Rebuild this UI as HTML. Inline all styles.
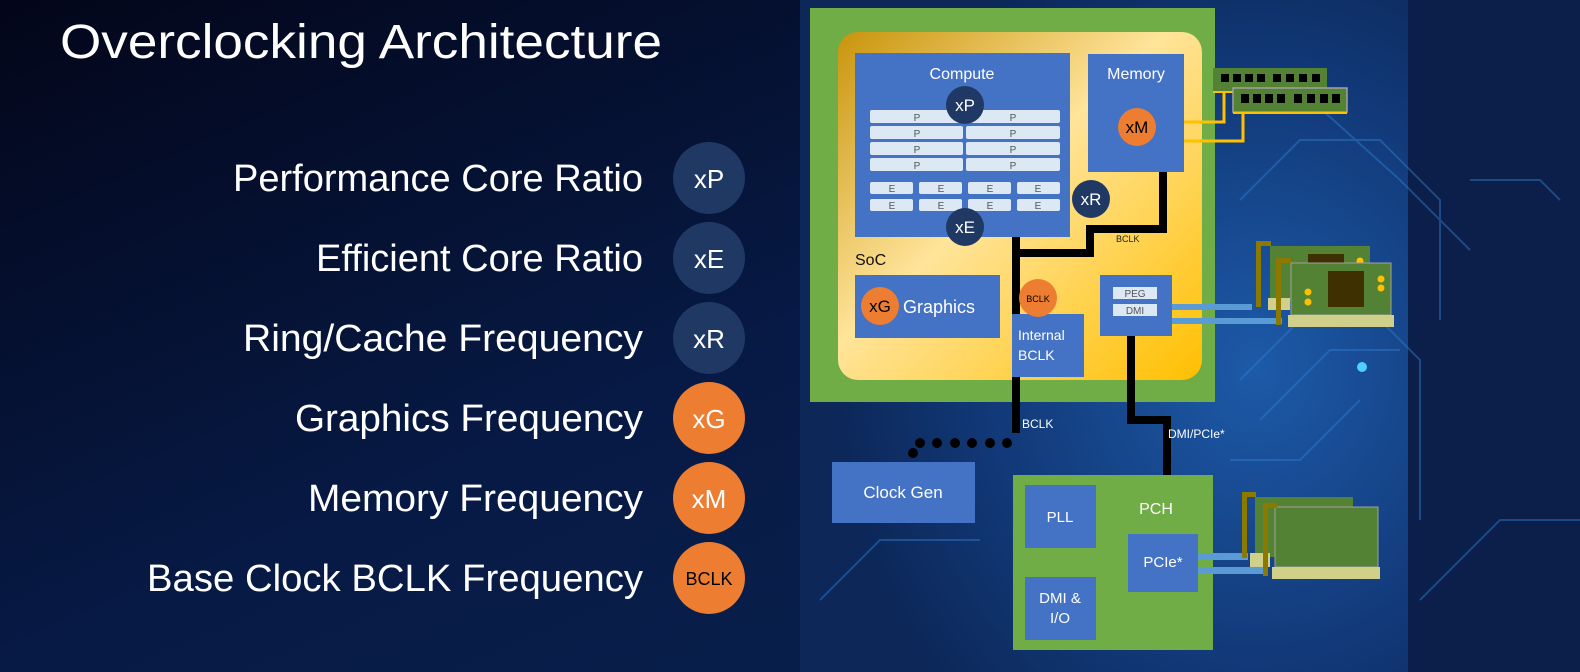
<!DOCTYPE html>
<html><head><meta charset="utf-8"><style>
html,body{margin:0;padding:0;background:#050b22;}
svg{display:block;}
text{font-family:"Liberation Sans",sans-serif;}
</style></head><body>
<svg width="1580" height="672" viewBox="0 0 1580 672" xmlns="http://www.w3.org/2000/svg">
<defs>
<linearGradient id="bg" x1="0" y1="0" x2="1" y2="1">
<stop offset="0" stop-color="#03061a"/><stop offset="0.5" stop-color="#071a45"/><stop offset="1" stop-color="#0a2350"/>
</linearGradient>
<radialGradient id="pan" cx="0.75" cy="0.55" r="0.7">
<stop offset="0" stop-color="#1d5aa8"/><stop offset="0.6" stop-color="#123a7a"/><stop offset="1" stop-color="#0c2758"/>
</radialGradient>
<linearGradient id="yel" x1="0" y1="0" x2="1" y2="1">
<stop offset="0" stop-color="#c8940c"/><stop offset="0.45" stop-color="#ffe49a"/><stop offset="1" stop-color="#ffbf00"/>
</linearGradient>
</defs>
<rect width="1580" height="672" fill="url(#bg)"/>
<rect x="800" y="0" width="608" height="672" fill="url(#pan)"/>
<rect x="1408" y="0" width="172" height="672" fill="#0b1f4a"/>
<g stroke="#2f7fd0" stroke-width="2" fill="none" opacity="0.45">
<path d="M1240 380 L1300 320 L1380 320 L1420 360 L1420 520"/>
<path d="M1260 420 L1330 350 L1400 350"/>
<path d="M1240 200 L1300 140 L1380 140 L1440 200 L1440 320"/>
<path d="M1300 90 L1400 180 L1470 250"/>
<path d="M1230 460 L1300 460 L1360 400"/>
<path d="M820 600 L880 540 L980 540"/>
<path d="M1470 180 L1540 180 L1560 200"/>
<path d="M1420 600 L1500 520 L1580 520"/>
</g>
<circle cx="1362" cy="367" r="5" fill="#4fd0ff"/>

<text x="60" y="58" font-size="48" fill="#fff" textLength="602" lengthAdjust="spacingAndGlyphs">Overclocking Architecture</text>
<g font-size="38" fill="#fff">
<text x="233" y="191" textLength="410" lengthAdjust="spacingAndGlyphs">Performance Core Ratio</text>
<text x="316" y="271" textLength="327" lengthAdjust="spacingAndGlyphs">Efficient Core Ratio</text>
<text x="243" y="351" textLength="400" lengthAdjust="spacingAndGlyphs">Ring/Cache Frequency</text>
<text x="295" y="431" textLength="348" lengthAdjust="spacingAndGlyphs">Graphics Frequency</text>
<text x="308" y="511" textLength="335" lengthAdjust="spacingAndGlyphs">Memory Frequency</text>
<text x="147" y="591" textLength="496" lengthAdjust="spacingAndGlyphs">Base Clock BCLK Frequency</text>
</g>
<g text-anchor="middle" fill="#fff">
<circle cx="709" cy="178" r="36" fill="#203864"/><text x="709" y="188" font-size="26">xP</text>
<circle cx="709" cy="258" r="36" fill="#203864"/><text x="709" y="268" font-size="26">xE</text>
<circle cx="709" cy="338" r="36" fill="#203864"/><text x="709" y="348" font-size="26">xR</text>
<circle cx="709" cy="418" r="36" fill="#ed7d31"/><text x="709" y="428" font-size="26">xG</text>
<circle cx="709" cy="498" r="36" fill="#ed7d31"/><text x="709" y="508" font-size="26">xM</text>
<circle cx="709" cy="578" r="36" fill="#ed7d31"/><text x="709" y="585" font-size="18" fill="#000">BCLK</text>
</g>

<rect x="810" y="8" width="405" height="394" fill="#70ad47"/>
<rect x="838" y="32" width="364" height="348" rx="20" fill="url(#yel)"/>
<g stroke="#ffc000" stroke-width="3" fill="none">
<path d="M1184 122 L1224 122 L1224 92"/>
<path d="M1184 141 L1243 141 L1243 112"/>
</g>
<rect x="1213" y="68" width="114" height="23" fill="#548235"/>
<rect x="1213" y="91" width="114" height="2" fill="#ffc000"/>
<g fill="#000"><rect x="1221" y="74" width="8" height="8"/><rect x="1233" y="74" width="8" height="8"/><rect x="1245" y="74" width="8" height="8"/><rect x="1257" y="74" width="8" height="8"/><rect x="1273" y="74" width="8" height="8"/><rect x="1286" y="74" width="8" height="8"/><rect x="1299" y="74" width="8" height="8"/><rect x="1312" y="74" width="8" height="8"/></g>
<rect x="1233" y="88" width="114" height="24" fill="#548235" stroke="#a0a0a0" stroke-width="1.5"/>
<rect x="1233" y="112" width="114" height="2" fill="#ffc000"/>
<g fill="#000"><rect x="1241" y="94" width="8" height="9"/><rect x="1253" y="94" width="8" height="9"/><rect x="1265" y="94" width="8" height="9"/><rect x="1277" y="94" width="8" height="9"/><rect x="1294" y="94" width="8" height="9"/><rect x="1307" y="94" width="8" height="9"/><rect x="1320" y="94" width="8" height="9"/><rect x="1332" y="94" width="8" height="9"/></g>

<g stroke="#000" stroke-width="8" fill="none">
<path d="M1163 172 L1163 229 L1090 229 L1090 253 L1016 253"/>
<path d="M1016 237 L1016 433"/>
<path d="M1131 336 L1131 420 L1167 420 L1167 475"/>
<path d="M1058 548 L1058 577"/>
<path d="M1058 563 L1128 563"/>
</g>
<g fill="#000">
<circle cx="920" cy="443" r="5"/><circle cx="937" cy="443" r="5"/><circle cx="955" cy="443" r="5"/><circle cx="972" cy="443" r="5"/><circle cx="990" cy="443" r="5"/><circle cx="1007" cy="443" r="5"/><circle cx="913" cy="453" r="5"/>
</g>

<rect x="855" y="53" width="215" height="184" fill="#4472c4"/>
<text x="962" y="79" font-size="16" fill="#fff" text-anchor="middle">Compute</text>
<g fill="#dde8f5">
<rect x="870" y="110" width="93" height="13" rx="2"/><rect x="966" y="110" width="94" height="13" rx="2"/>
<rect x="870" y="126" width="93" height="13" rx="2"/><rect x="966" y="126" width="94" height="13" rx="2"/>
<rect x="870" y="142" width="93" height="13" rx="2"/><rect x="966" y="142" width="94" height="13" rx="2"/>
<rect x="870" y="158" width="93" height="13" rx="2"/><rect x="966" y="158" width="94" height="13" rx="2"/>
<rect x="870" y="182" width="43" height="12" rx="2"/><rect x="919" y="182" width="43" height="12" rx="2"/><rect x="968" y="182" width="43" height="12" rx="2"/><rect x="1017" y="182" width="43" height="12" rx="2"/>
<rect x="870" y="199" width="43" height="12" rx="2"/><rect x="919" y="199" width="43" height="12" rx="2"/><rect x="968" y="199" width="43" height="12" rx="2"/><rect x="1017" y="199" width="43" height="12" rx="2"/>
</g>
<g font-size="10" fill="#555" text-anchor="middle">
<text x="917" y="121">P</text><text x="1013" y="121">P</text>
<text x="917" y="137">P</text><text x="1013" y="137">P</text>
<text x="917" y="153">P</text><text x="1013" y="153">P</text>
<text x="917" y="169">P</text><text x="1013" y="169">P</text>
<text x="892" y="192">E</text><text x="941" y="192">E</text><text x="990" y="192">E</text><text x="1038" y="192">E</text>
<text x="892" y="209">E</text><text x="941" y="209">E</text><text x="990" y="209">E</text><text x="1038" y="209">E</text>
</g>
<g text-anchor="middle" fill="#fff" font-size="17">
<circle cx="965" cy="105" r="19" fill="#203864"/><text x="965" y="111">xP</text>
<circle cx="965" cy="227" r="19" fill="#203864"/><text x="965" y="233">xE</text>
<circle cx="1091" cy="199" r="19" fill="#203864"/><text x="1091" y="205">xR</text>
</g>
<rect x="1088" y="54" width="96" height="118" fill="#4472c4"/>
<text x="1136" y="79" font-size="16" fill="#fff" text-anchor="middle">Memory</text>
<circle cx="1137" cy="127" r="19" fill="#ed7d31"/><text x="1137" y="133" font-size="17" fill="#000" text-anchor="middle">xM</text>
<text x="1116" y="242" font-size="9" fill="#222">BCLK</text>
<text x="855" y="265" font-size="16" fill="#111">SoC</text>
<rect x="855" y="275" width="145" height="63" fill="#4472c4"/>
<circle cx="880" cy="306" r="19" fill="#ed7d31"/><text x="880" y="312" font-size="17" fill="#000" text-anchor="middle">xG</text>
<text x="903" y="313" font-size="18" fill="#fff">Graphics</text>
<rect x="1012" y="314" width="72" height="63" fill="#4472c4"/>
<text x="1018" y="340" font-size="14" fill="#fff">Internal</text>
<text x="1018" y="360" font-size="14" fill="#fff">BCLK</text>
<circle cx="1038" cy="298" r="19" fill="#ed7d31"/><text x="1038" y="302" font-size="9" fill="#000" text-anchor="middle">BCLK</text>
<rect x="1100" y="275" width="72" height="61" fill="#4472c4"/>
<rect x="1113" y="287" width="44" height="12" fill="#dde8f5"/><text x="1135" y="297" font-size="10" fill="#555" text-anchor="middle">PEG</text>
<rect x="1113" y="304" width="44" height="12" fill="#dde8f5"/><text x="1135" y="314" font-size="10" fill="#555" text-anchor="middle">DMI</text>
<rect x="1172" y="304" width="80" height="6" fill="#5b9bd5"/>
<rect x="1172" y="318" width="110" height="6" fill="#5b9bd5"/>
<rect x="1270" y="246" width="100" height="55" fill="#548235"/>
<rect x="1308" y="254" width="36" height="12" fill="#3f3000"/>
<circle cx="1360" cy="261" r="3.5" fill="#ffc000"/>
<rect x="1268" y="298" width="22" height="12" fill="#d0d08a"/>
<rect x="1256" y="241" width="5" height="66" fill="#8c7a00"/><rect x="1256" y="241" width="15" height="5" fill="#8c7a00"/>
<rect x="1291" y="263" width="100" height="52" fill="#548235" stroke="#a0a0a0" stroke-width="1"/>
<rect x="1328" y="271" width="36" height="36" fill="#3f3000"/>
<circle cx="1308" cy="292" r="3.5" fill="#ffc000"/><circle cx="1308" cy="302" r="3.5" fill="#ffc000"/>
<circle cx="1381" cy="279" r="3.5" fill="#ffc000"/><circle cx="1381" cy="288" r="3.5" fill="#ffc000"/>
<rect x="1288" y="315" width="106" height="12" fill="#d0d08a"/>
<rect x="1276" y="258" width="5" height="67" fill="#8c7a00"/><rect x="1276" y="258" width="15" height="5" fill="#8c7a00"/>

<text x="1022" y="428" font-size="12" fill="#fff">BCLK</text>
<text x="1168" y="438" font-size="12" fill="#fff">DMI/PCIe*</text>
<rect x="832" y="462" width="143" height="61" fill="#4472c4"/>
<text x="903" y="498" font-size="17" fill="#fff" text-anchor="middle">Clock Gen</text>
<rect x="1013" y="475" width="200" height="175" fill="#70ad47"/>
<text x="1156" y="514" font-size="16" fill="#fff" text-anchor="middle">PCH</text>
<rect x="1025" y="485" width="71" height="63" fill="#4472c4"/>
<text x="1060" y="522" font-size="15" fill="#fff" text-anchor="middle">PLL</text>
<rect x="1025" y="577" width="71" height="63" fill="#4472c4"/>
<text x="1060" y="603" font-size="15" fill="#fff" text-anchor="middle">DMI &amp;</text>
<text x="1060" y="623" font-size="15" fill="#fff" text-anchor="middle">I/O</text>
<rect x="1128" y="534" width="70" height="58" fill="#4472c4"/>
<text x="1163" y="567" font-size="15" fill="#fff" text-anchor="middle">PCIe*</text>
<rect x="1198" y="553" width="50" height="7" fill="#5b9bd5"/>
<rect x="1198" y="567" width="70" height="7" fill="#5b9bd5"/>
<rect x="1255" y="497" width="98" height="60" fill="#548235"/>
<rect x="1250" y="553" width="20" height="14" fill="#d0d08a"/>
<rect x="1242" y="492" width="5" height="66" fill="#8c7a00"/><rect x="1242" y="492" width="14" height="5" fill="#8c7a00"/>
<rect x="1275" y="507" width="103" height="60" fill="#548235" stroke="#a0a0a0" stroke-width="1"/>
<rect x="1272" y="567" width="108" height="12" fill="#d0d08a"/>
<rect x="1263" y="503" width="5" height="73" fill="#8c7a00"/><rect x="1263" y="503" width="14" height="5" fill="#8c7a00"/>
</svg>
</body></html>
